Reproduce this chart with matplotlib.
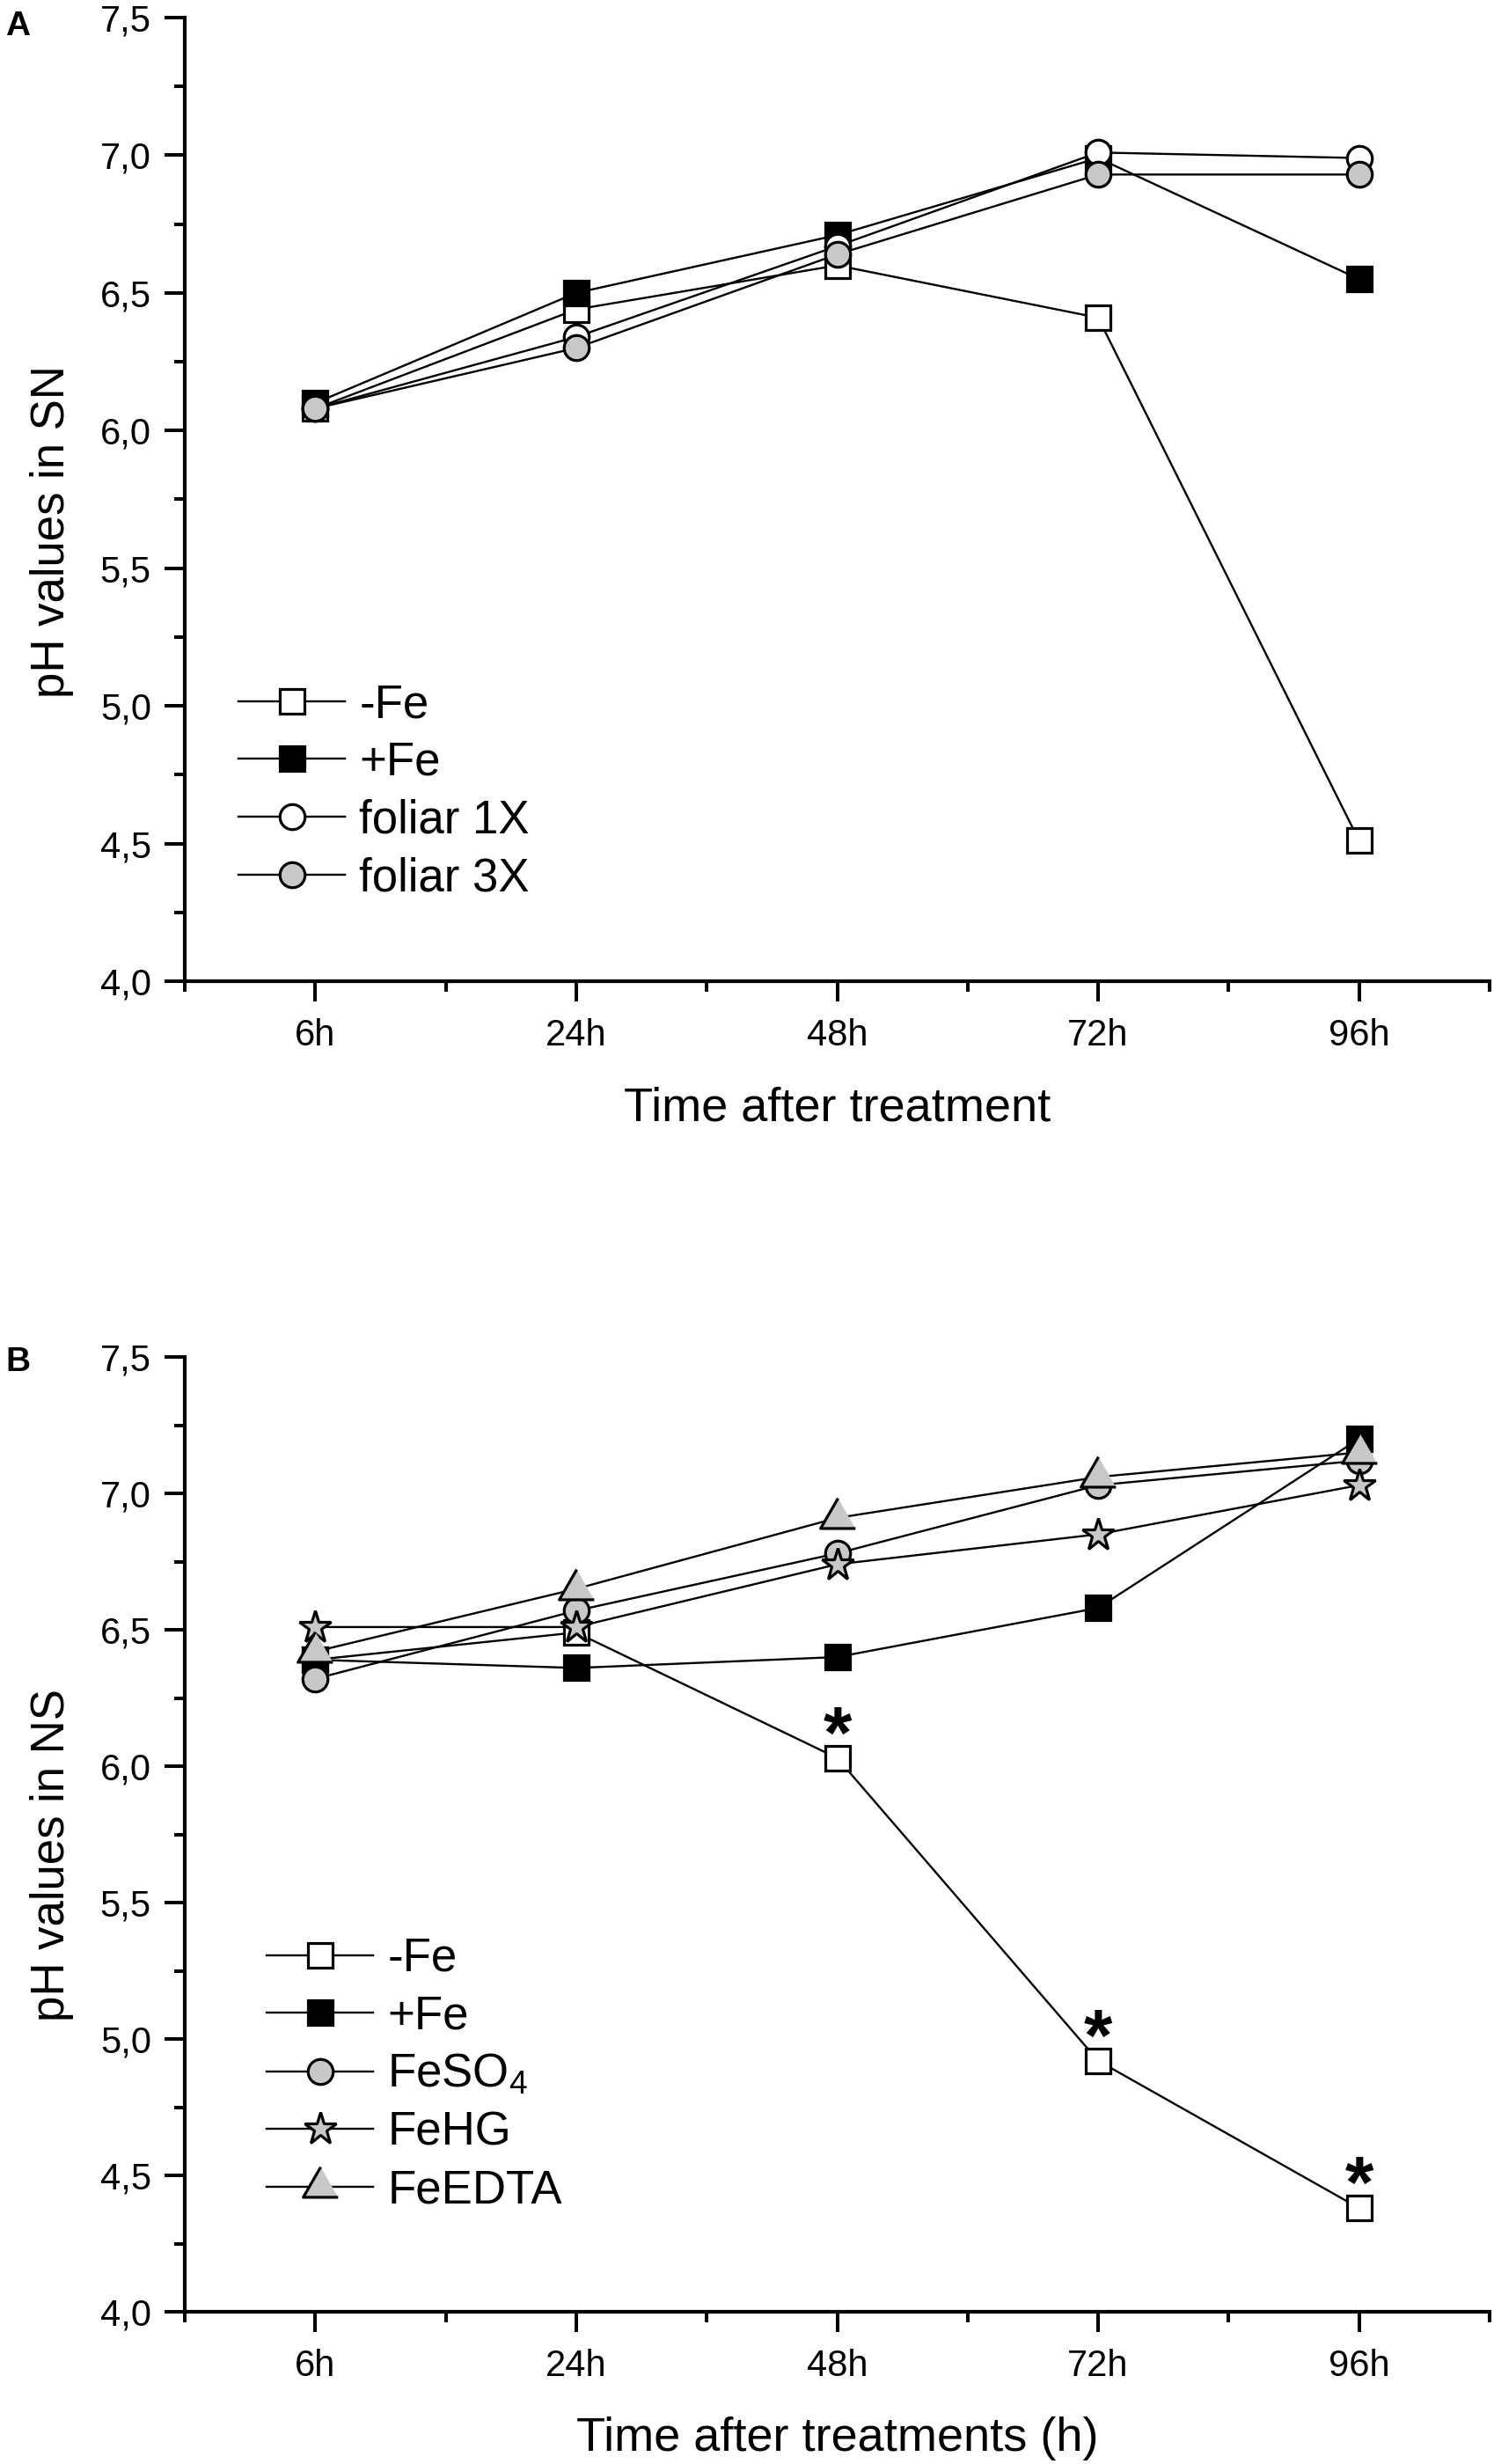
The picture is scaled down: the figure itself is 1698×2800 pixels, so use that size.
import matplotlib
matplotlib.use("Agg")
import matplotlib.pyplot as plt
from matplotlib.ticker import MultipleLocator, FixedLocator, FuncFormatter

plt.rcParams['font.family'] = ['Liberation Sans', 'DejaVu Sans']
plt.rcParams['mathtext.default'] = 'regular'

# ---------------- data ----------------
times = ["6h", "24h", "48h", "72h", "96h"]

# Panel A: pH in SN
a_minus_fe = [6.08, 6.44, 6.60, 6.41, 4.51]
a_plus_fe = [6.10, 6.50, 6.71, 6.99, 6.55]
a_foliar1x = [6.08, 6.34, 6.67, 7.01, 6.99]
a_foliar3x = [6.08, 6.30, 6.64, 6.93, 6.93]

# Panel B: pH in NS
b_minus_fe = [6.39, 6.49, 6.03, 4.92, 4.38]
b_plus_fe = [6.39, 6.36, 6.40, 6.58, 7.20]
b_feso4 = [6.32, 6.57, 6.78, 7.03, 7.12]
b_fehg = [6.51, 6.51, 6.74, 6.85, 7.03]
b_feedta = [6.42, 6.65, 6.91, 7.06, 7.15]
b_signif = [False, False, True, True, True]

labels_a = ["-Fe", "+Fe", "foliar 1X", "foliar 3X"]
labels_b = ["-Fe", "+Fe", "FeSO$_4$", "FeHG", "FeEDTA"]

GRAY = '#c8c8c8'
W = 1699.0
H = 2800.0

tri = [(0.0, 1.0), (-0.866, -0.5), (0.866, -0.5)]

fig = plt.figure(figsize=(W / 100, H / 100), dpi=100)
axA = fig.add_axes([210 / W, 1 - 1115 / H, 1483 / W, 1095 / H])
axB = fig.add_axes([210 / W, 1 - 2627 / H, 1483 / W, 1085 / H])

x = list(range(1, len(times) + 1))
LW = 1.7
MEW = 2.3
MS_SQ = 19.5
MS_O = 20.5


def style(ax):
    ax.set_xlim(0.5, 5.5)
    ax.set_ylim(4.0, 7.5)
    for s in ['top', 'right']:
        ax.spines[s].set_visible(False)
    for s in ['left', 'bottom']:
        ax.spines[s].set_linewidth(3.0)
    ax.set_xticks(x)
    ax.set_xticklabels(times)
    ax.xaxis.set_minor_locator(FixedLocator([0.5, 1.5, 2.5, 3.5, 4.5, 5.5]))
    ax.yaxis.set_major_locator(MultipleLocator(0.5))
    ax.yaxis.set_minor_locator(MultipleLocator(0.25))
    ax.yaxis.set_major_formatter(FuncFormatter(lambda v, p: f"{v:.1f}".replace('.', ',')))
    ax.tick_params(which='major', direction='out', length=16.5, width=2.9, labelsize=30)
    ax.tick_params(which='minor', direction='out', length=8.6, width=2.9)
    ax.tick_params(axis='x', which='major', pad=14)
    ax.tick_params(axis='y', which='major', pad=11)
    ax.set_facecolor('white')


leg_kw = dict(frameon=False, fontsize=38, handlelength=2.3, handletextpad=0.3, labelspacing=0.30,
              borderpad=0, borderaxespad=0, numpoints=1)

# ---------------- Panel A ----------------
axA.plot(x, a_minus_fe, color='black', lw=LW, marker='s', ms=MS_SQ, mfc='white', mec='black', mew=MEW, label=labels_a[0])
axA.plot(x, a_plus_fe, color='black', lw=LW, marker='s', ms=MS_SQ, mfc='black', mec='black', mew=MEW, label=labels_a[1])
axA.plot(x, a_foliar1x, color='black', lw=LW, marker='o', ms=MS_O, mfc='white', mec='black', mew=MEW, label=labels_a[2])
axA.plot(x, a_foliar3x, color='black', lw=LW, marker='o', ms=MS_O, mfc=GRAY, mec='black', mew=MEW, label=labels_a[3])
style(axA)
axA.set_ylabel("pH values in SN", fontsize=38)
axA.yaxis.set_label_coords(-0.085, 0.467)
axA.set_xlabel("Time after treatment", fontsize=39)
axA.xaxis.set_label_coords(0.5, -0.109)
axA.legend(loc='upper left', bbox_to_anchor=(271 / W, 1 - 776 / H), bbox_transform=fig.transFigure, **leg_kw)

# ---------------- Panel B ----------------
axB.plot(x, b_minus_fe, color='black', lw=LW, marker='s', ms=MS_SQ, mfc='white', mec='black', mew=MEW, label=labels_b[0])
axB.plot(x, b_plus_fe, color='black', lw=LW, marker='s', ms=MS_SQ, mfc='black', mec='black', mew=MEW, label=labels_b[1])
axB.plot(x, b_feso4, color='black', lw=LW, marker='o', ms=MS_O, mfc=GRAY, mec='black', mew=MEW, label=labels_b[2])
axB.plot(x, b_fehg, color='black', lw=LW, marker='*', ms=28, mfc=GRAY, mec='black', mew=MEW, label=labels_b[3])
axB.plot(x, b_feedta, color='black', lw=LW, marker=tri, ms=33, mfc=GRAY, mec='black', mew=MEW, label=labels_b[4])
for xi, yi, sig in zip(x, b_minus_fe, b_signif):
    if sig:
        axB.annotate('*', xy=(xi, yi), xytext=(0, 0), textcoords='offset points',
                     ha='center', va='baseline', fontsize=60, fontweight='bold')
style(axB)
axB.set_ylabel("pH values in NS", fontsize=38)
axB.yaxis.set_label_coords(-0.085, 0.478)
axB.set_xlabel("Time after treatments (h)", fontsize=39)
axB.xaxis.set_label_coords(0.5, -0.110)
axB.legend(loc='upper left', bbox_to_anchor=(303 / W, 1 - 2201 / H), bbox_transform=fig.transFigure, **leg_kw)

fig.text(6 / W, 1 - 12 / H, "A", fontsize=28, fontweight='bold', va='top', ha='left')
fig.text(6 / W, 1 - 1530 / H, "B", fontsize=28, fontweight='bold', va='top', ha='left')

fig.savefig("out.png", dpi=100, facecolor='white')
